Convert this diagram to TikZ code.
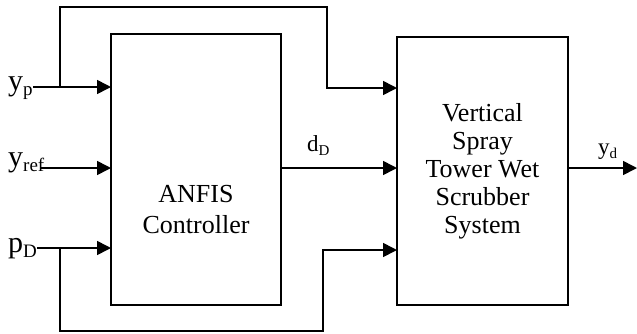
\documentclass[tikz,border=0pt]{standalone}
\usepackage{fontspec}
\setmainfont{Liberation Serif}
\usetikzlibrary{arrows.meta}
\newcommand{\insub}[1]{\raisebox{-5pt}{\fontsize{19}{19}\selectfont #1}}
\newcommand{\outsub}[1]{\raisebox{-4pt}{\fontsize{15}{15}\selectfont #1}}
\tikzstyle{block}=[draw, line width=1.6pt, inner sep=0, outer sep=0, align=center]
\tikzstyle{wire}=[line width=1.6pt]
\tikzstyle{signal}=[wire, -{Triangle[length=14pt, width=14pt]}]
\tikzstyle{insig}=[inner sep=0, anchor=base west, font=\fontsize{30}{30}\selectfont]
\tikzstyle{outsig}=[inner sep=0, anchor=base west, font=\fontsize{23}{23}\selectfont]

\begin{document}
\begin{tikzpicture}[x=1pt, y=-1pt]
        \useasboundingbox (0,0) rectangle (637,333);
        % Blocks.
        \node[block, minimum width=170pt, minimum height=271pt] (anfis) at (196,169.5) {};
        \node[align=center, inner sep=0, font=\fontsize{26}{31}\selectfont] (anfistext) at (196,210) {ANFIS\\Controller};
        \node[block, minimum width=171pt, minimum height=268pt, font=\fontsize{26}{28}\selectfont] (plant) at (482.5,171) {Vertical\\Spray\\Tower Wet\\Scrubber\\System};
        % Signal names.
        \node[insig] (yp) at (8,90) {y\insub{p}};
        \node[insig] (yref) at (8,166) {y\insub{ref}};
        \node[insig] (pD) at (8,252) {p\insub{D}};
        \node[outsig] (dD) at (307,151) {d\outsub{D}};
        \node[outsig] (yd) at (598,154) {y\outsub{d}};
        % Branch points.
        \coordinate (tapp) at (60,87);
        \coordinate (tapd) at (60,248);
        \coordinate (refin) at (40,168);
        \coordinate (top) at (327,7);
        \coordinate (bot) at (323,331);
        \coordinate (ydend) at (637,168);
        % Inputs of the controller.
        \draw[signal] (yp.east |- tapp) -- (tapp -| anfis.west);
        \draw[signal] (refin) -- (refin -| anfis.west);
        \draw[signal] (pD.east |- tapd) -- (tapd -| anfis.west);
        % Feedback to the plant.
        \draw[signal] (tapp) |- (top) |- (plant.west |- 0,88);
        \draw[signal] (tapd) |- (bot) |- (plant.west |- 0,250);
        \draw[signal] (anfis.east |- refin) -- (plant.west |- refin);
        \draw[signal] (plant.east |- refin) -- (ydend);
    \end{tikzpicture}
\end{document}
